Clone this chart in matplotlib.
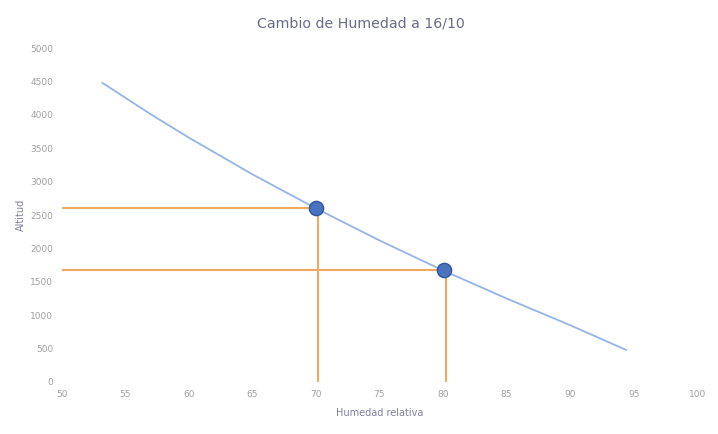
import numpy as np
import matplotlib.pyplot as plt

# curve (humidity vs altitude)
humedad = [53.2, 57, 60, 65, 70, 75, 80, 85, 90, 94.4]
altitud = [4480, 4010, 3660, 3110, 2600, 2120, 1670, 1250, 850, 480]

# marked points
pt_hum = [70, 80.1]
pt_alt = [2610, 1670]

x_ticks = np.arange(50, 101, 5)
y_ticks = np.arange(0, 5001, 500)

fig = plt.figure(figsize=(7.18, 4.34), dpi=100)
ax = fig.add_axes([0.086, 0.12, 0.885, 0.769])

ax.plot(humedad, altitud, color='#94b4e8', lw=1.3, zorder=2)

for h, a in zip(pt_hum, pt_alt):
    ax.plot([50, h], [a, a], color='#f0a860', lw=1.5, zorder=1)
    ax.plot([h + 0.15, h + 0.15], [0, a], color='#f0a860', lw=1.5, zorder=1)

ax.scatter(pt_hum, pt_alt, s=105, color='#4a72c0', edgecolor='#2f55a0',
           linewidth=1, zorder=3)

ax.set_xlim(50, 100)
ax.set_ylim(0, 5000)
ax.set_xticks(x_ticks)
ax.set_yticks(y_ticks)
ax.tick_params(length=0, labelsize=6.5, labelcolor='#a0a0a0', pad=6)
for s in ax.spines.values():
    s.set_visible(False)

ax.set_xlabel('Humedad relativa', fontsize=7, color='#8080a0', labelpad=6)
ax.set_ylabel('Altitud', fontsize=7, color='#8080a0', labelpad=3)
fig.suptitle('Cambio de Humedad a 16/10', x=0.503, y=0.963, fontsize=10.2,
             color='#6a6a8a')

fig.savefig('out.png', dpi=100)
